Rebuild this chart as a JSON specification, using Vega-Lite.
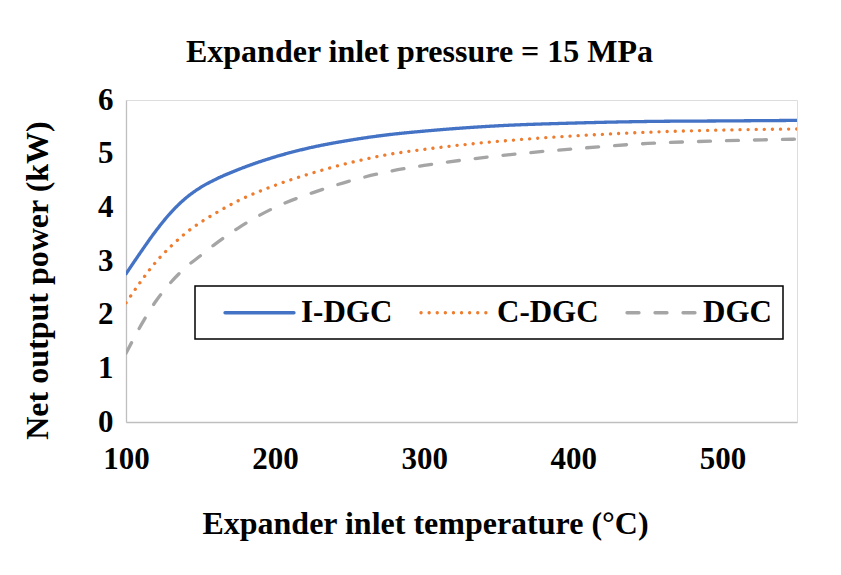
{
  "$schema": "https://vega.github.io/schema/vega-lite/v6.json",
  "width": 671,
  "height": 322,
  "autosize": {"type": "none"},
  "padding": {"left": 126, "top": 100, "right": 44, "bottom": 153},
  "background": "white",
  "title": {
    "text": "Expander inlet pressure = 15 MPa",
    "font": "Liberation Serif",
    "fontSize": 32,
    "fontWeight": "bold",
    "color": "black",
    "anchor": "middle",
    "frame": "group",
    "baseline": "alphabetic",
    "offset": 36,
    "dx": -42,
    "dy": 46
  },
  "data": {
    "values": [
      {"T": 100, "P": 2.76, "s": "I-DGC"},
      {"T": 110, "P": 3.17, "s": "I-DGC"},
      {"T": 120, "P": 3.56, "s": "I-DGC"},
      {"T": 130, "P": 3.90, "s": "I-DGC"},
      {"T": 140, "P": 4.17, "s": "I-DGC"},
      {"T": 150, "P": 4.37, "s": "I-DGC"},
      {"T": 160, "P": 4.52, "s": "I-DGC"},
      {"T": 175, "P": 4.70, "s": "I-DGC"},
      {"T": 200, "P": 4.94, "s": "I-DGC"},
      {"T": 225, "P": 5.12, "s": "I-DGC"},
      {"T": 250, "P": 5.25, "s": "I-DGC"},
      {"T": 275, "P": 5.35, "s": "I-DGC"},
      {"T": 300, "P": 5.42, "s": "I-DGC"},
      {"T": 350, "P": 5.52, "s": "I-DGC"},
      {"T": 400, "P": 5.57, "s": "I-DGC"},
      {"T": 450, "P": 5.60, "s": "I-DGC"},
      {"T": 500, "P": 5.61, "s": "I-DGC"},
      {"T": 550, "P": 5.62, "s": "I-DGC"},
      {"T": 100, "P": 2.22, "s": "C-DGC"},
      {"T": 110, "P": 2.62, "s": "C-DGC"},
      {"T": 120, "P": 2.98, "s": "C-DGC"},
      {"T": 130, "P": 3.27, "s": "C-DGC"},
      {"T": 140, "P": 3.52, "s": "C-DGC"},
      {"T": 150, "P": 3.72, "s": "C-DGC"},
      {"T": 160, "P": 3.89, "s": "C-DGC"},
      {"T": 175, "P": 4.12, "s": "C-DGC"},
      {"T": 200, "P": 4.41, "s": "C-DGC"},
      {"T": 225, "P": 4.64, "s": "C-DGC"},
      {"T": 250, "P": 4.83, "s": "C-DGC"},
      {"T": 275, "P": 4.98, "s": "C-DGC"},
      {"T": 300, "P": 5.08, "s": "C-DGC"},
      {"T": 350, "P": 5.23, "s": "C-DGC"},
      {"T": 400, "P": 5.33, "s": "C-DGC"},
      {"T": 450, "P": 5.40, "s": "C-DGC"},
      {"T": 500, "P": 5.44, "s": "C-DGC"},
      {"T": 550, "P": 5.46, "s": "C-DGC"},
      {"T": 100, "P": 1.28, "s": "DGC"},
      {"T": 110, "P": 1.80, "s": "DGC"},
      {"T": 120, "P": 2.25, "s": "DGC"},
      {"T": 130, "P": 2.60, "s": "DGC"},
      {"T": 140, "P": 2.88, "s": "DGC"},
      {"T": 150, "P": 3.10, "s": "DGC"},
      {"T": 160, "P": 3.32, "s": "DGC"},
      {"T": 175, "P": 3.61, "s": "DGC"},
      {"T": 200, "P": 4.00, "s": "DGC"},
      {"T": 225, "P": 4.27, "s": "DGC"},
      {"T": 250, "P": 4.49, "s": "DGC"},
      {"T": 275, "P": 4.66, "s": "DGC"},
      {"T": 300, "P": 4.78, "s": "DGC"},
      {"T": 350, "P": 4.96, "s": "DGC"},
      {"T": 400, "P": 5.09, "s": "DGC"},
      {"T": 450, "P": 5.19, "s": "DGC"},
      {"T": 500, "P": 5.24, "s": "DGC"},
      {"T": 550, "P": 5.27, "s": "DGC"}
    ]
  },
  "mark": {"type": "line", "interpolate": "monotone", "strokeWidth": 3.3, "strokeCap": "round", "clip": true},
  "encoding": {
    "x": {
      "field": "T",
      "type": "quantitative",
      "scale": {"domain": [100, 550], "nice": false, "zero": false},
      "axis": {
        "title": "Expander inlet temperature (°C)",
        "values": [100, 200, 300, 400, 500],
        "grid": false,
        "ticks": false,
        "domainColor": "#BFBFBF",
        "domainWidth": 1.3,
        "labelFont": "Liberation Serif",
        "labelFontSize": 31,
        "labelFontWeight": "bold",
        "labelColor": "black",
        "labelPadding": 22,
        "labelFlush": false,
        "titleFont": "Liberation Serif",
        "titleFontSize": 32,
        "titleFontWeight": "bold",
        "titleColor": "black",
        "titleX": 299,
        "titleY": 111,
        "titleBaseline": "alphabetic",
        "titleAlign": "center"
      }
    },
    "y": {
      "field": "P",
      "type": "quantitative",
      "scale": {"domain": [0, 6], "nice": false},
      "axis": {
        "title": "Net output power (kW)",
        "values": [0, 1, 2, 3, 4, 5, 6],
        "grid": false,
        "ticks": false,
        "domainColor": "#BFBFBF",
        "domainWidth": 1.3,
        "labelFont": "Liberation Serif",
        "labelFontSize": 31,
        "labelFontWeight": "bold",
        "labelColor": "black",
        "labelPadding": 13,
        "labelFlush": false,
        "titleFont": "Liberation Serif",
        "titleFontSize": 32,
        "titleFontWeight": "bold",
        "titleColor": "black",
        "titleAngle": 270,
        "titleX": -79,
        "titleY": 180,
        "titleBaseline": "alphabetic",
        "titleAlign": "center"
      }
    },
    "color": {
      "field": "s",
      "type": "nominal",
      "scale": {"domain": ["I-DGC", "C-DGC", "DGC"], "range": ["#4472C4", "#ED7D31", "#A5A5A5"]},
      "legend": {
        "title": null,
        "orient": "none",
        "direction": "horizontal",
        "columns": 3,
        "legendX": 69,
        "legendY": 186,
        "padding": 11,
        "strokeColor": "black",
        "symbolType": "M-3,0H3",
        "symbolSize": 529,
        "symbolOffset": 38,
        "symbolStrokeWidth": 3.3,
        "labelFont": "Liberation Serif",
        "labelFontSize": 31,
        "labelFontWeight": "bold",
        "labelColor": "black",
        "labelOffset": 26,
        "columnPadding": 9,
        "encode": {
          "symbols": {"update": {"strokeCap": {"value": "round"}}},
          "legend": {"update": {"strokeWidth": {"value": 1.5}}}
        }
      }
    },
    "strokeDash": {
      "field": "s",
      "type": "nominal",
      "scale": {"domain": ["I-DGC", "C-DGC", "DGC"], "range": [[1, 0], [0.1, 8], [12, 16]]},
      "legend": null
    }
  }
}
